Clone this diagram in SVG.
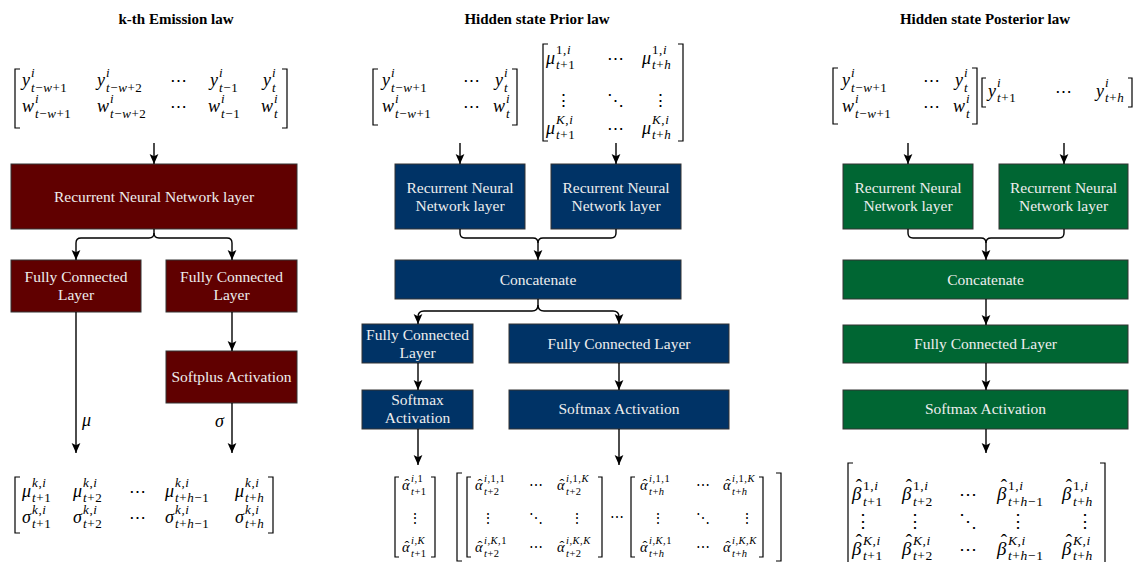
<svg xmlns="http://www.w3.org/2000/svg" width="1137" height="562" viewBox="0 0 1137 562">
<defs>
<marker id="ah" viewBox="0 0 10 10" refX="10" refY="5" markerWidth="10" markerHeight="10" markerUnits="userSpaceOnUse" orient="auto">
<path d="M0,0.6 L10,5 L0,9.4 L2.2,5 Z" fill="#000"/>
</marker>
<style>
.ti{font-family:"Liberation Serif",serif;font-weight:bold;font-size:15px;text-anchor:middle;fill:#000}
.bx{stroke:#333;stroke-width:1}
.red{fill:#600000}.blu{fill:#003366}.grn{fill:#006633}
.lb{font-family:"Liberation Serif",serif;font-size:15.5px;text-anchor:middle;fill:#eeeeee}
.cn{fill:none;stroke:#000;stroke-width:1.4}
.ar{marker-end:url(#ah)}
.mi{font-family:"Liberation Serif",serif;font-style:italic;font-size:18px;fill:#000}
.sc{font-size:13px;letter-spacing:0.6px}
.mi2{font-family:"Liberation Serif",serif;font-style:italic;font-size:14.5px;fill:#000}
.sc2{font-size:10.5px;letter-spacing:0.5px}
.mi3{font-family:"Liberation Serif",serif;font-style:italic;font-size:19px;fill:#000}
.sc3{font-size:13.5px;letter-spacing:0.6px}
.u{font-style:normal}
.h{font-style:normal;letter-spacing:0}
.d{font-family:"DejaVu Serif",serif;font-size:17px;text-anchor:middle;fill:#000}
.d2{font-family:"DejaVu Serif",serif;font-size:14px;text-anchor:middle;fill:#000}
.d3{font-family:"DejaVu Serif",serif;font-size:18px;text-anchor:middle;fill:#000}
.br{fill:none;stroke:#000;stroke-width:1.2}
</style>
</defs>

<g id="titles">
<text class="ti" x="176" y="24">k-th Emission law</text>
<text class="ti" x="537" y="24">Hidden state Prior law</text>
<text class="ti" x="985" y="24">Hidden state Posterior law</text>
</g>

<!-- Emission nodes -->
<g id="em-rnn"><rect class="bx red" x="11" y="164" width="286" height="65"/><text class="lb" x="154" y="202">Recurrent Neural Network layer</text></g>
<g id="em-fc1"><rect class="bx red" x="11" y="260" width="130" height="52"/><text class="lb" x="76" y="282">Fully Connected</text><text class="lb" x="76" y="300">Layer</text></g>
<g id="em-fc2"><rect class="bx red" x="166" y="260" width="131" height="52"/><text class="lb" x="231.5" y="282">Fully Connected</text><text class="lb" x="231.5" y="300">Layer</text></g>
<g id="em-softplus"><rect class="bx red" x="166" y="351" width="131" height="52"/><text class="lb" x="231.5" y="382">Softplus Activation</text></g>

<!-- Prior nodes -->
<g id="pr-rnn1"><rect class="bx blu" x="395" y="164" width="130" height="65"/><text class="lb" x="460" y="193">Recurrent Neural</text><text class="lb" x="460" y="211">Network layer</text></g>
<g id="pr-rnn2"><rect class="bx blu" x="551" y="164" width="130" height="65"/><text class="lb" x="616" y="193">Recurrent Neural</text><text class="lb" x="616" y="211">Network layer</text></g>
<g id="pr-concat"><rect class="bx blu" x="395" y="260" width="286" height="39"/><text class="lb" x="538" y="285">Concatenate</text></g>
<g id="pr-fc1"><rect class="bx blu" x="362" y="324" width="111" height="39"/><text class="lb" x="417.5" y="340">Fully Connected</text><text class="lb" x="417.5" y="358">Layer</text></g>
<g id="pr-fc2"><rect class="bx blu" x="509" y="324" width="220" height="39"/><text class="lb" x="619" y="349">Fully Connected Layer</text></g>
<g id="pr-sm1"><rect class="bx blu" x="362" y="390" width="111" height="39"/><text class="lb" x="417.5" y="405">Softmax</text><text class="lb" x="417.5" y="423">Activation</text></g>
<g id="pr-sm2"><rect class="bx blu" x="509" y="390" width="220" height="39"/><text class="lb" x="619" y="414">Softmax Activation</text></g>

<!-- Posterior nodes -->
<g id="po-rnn1"><rect class="bx grn" x="843" y="164" width="130" height="65"/><text class="lb" x="908" y="193">Recurrent Neural</text><text class="lb" x="908" y="211">Network layer</text></g>
<g id="po-rnn2"><rect class="bx grn" x="999" y="164" width="129" height="65"/><text class="lb" x="1063.5" y="193">Recurrent Neural</text><text class="lb" x="1063.5" y="211">Network layer</text></g>
<g id="po-concat"><rect class="bx grn" x="843" y="260" width="285" height="39"/><text class="lb" x="985.5" y="285">Concatenate</text></g>
<g id="po-fc"><rect class="bx grn" x="843" y="325" width="285" height="38"/><text class="lb" x="985.5" y="349">Fully Connected Layer</text></g>
<g id="po-sm"><rect class="bx grn" x="843" y="390" width="285" height="39"/><text class="lb" x="985.5" y="414">Softmax Activation</text></g>

<!-- Connectors -->
<g id="connectors">
<path class="cn ar" d="M154,143 V164"/>
<path class="cn ar" d="M154,229 V233 Q154,238 149,238 H81 Q76,238 76,243 V260"/>
<path class="cn ar" d="M154,233 Q154,238 159,238 H227 Q232,238 232,243 V260"/>
<path class="cn ar" d="M76,312 V453"/>
<path class="cn ar" d="M232,312 V351"/>
<path class="cn ar" d="M232,403 V453"/>

<path class="cn ar" d="M460,143 V164"/>
<path class="cn ar" d="M616,143 V164"/>
<path class="cn ar" d="M460,229 V233 Q460,238 465,238 H533 Q538,238 538,243 V260"/>
<path class="cn" d="M616,229 V233 Q616,238 611,238 H543 Q538,238 538,243"/>
<path class="cn ar" d="M538,299 V305 Q538,311 532,311 H424 Q418,311 418,317 V324"/>
<path class="cn ar" d="M538,305 Q538,311 544,311 H613 Q619,311 619,317 V324"/>
<path class="cn ar" d="M418,363 V390"/>
<path class="cn ar" d="M619,363 V390"/>
<path class="cn ar" d="M418,429 V465"/>
<path class="cn ar" d="M619,429 V465"/>

<path class="cn ar" d="M908,143 V164"/>
<path class="cn ar" d="M1064,143 V164"/>
<path class="cn ar" d="M908,229 V233 Q908,238 913,238 H981 Q986,238 986,243 V260"/>
<path class="cn" d="M1064,229 V233 Q1064,238 1059,238 H991 Q986,238 986,243"/>
<path class="cn ar" d="M986,299 V325"/>
<path class="cn ar" d="M986,363 V390"/>
<path class="cn ar" d="M986,429 V453"/>

<text class="mi" x="82" y="426">μ</text>
<text class="mi" x="215" y="427">σ</text>
</g>

<!-- Emission input matrix -->
<g id="em-in">
<path class="br" d="M20,69 H15 V128 H20"/><path class="br" d="M282,69 H287 V128 H282"/>
<text class="mi" x="22" y="86">y<tspan class="sc" x="31" y="77">i</tspan><tspan class="sc" x="31" y="92">t<tspan class="u">−</tspan>w<tspan class="u">+1</tspan></tspan></text>
<text class="mi" x="97" y="86">y<tspan class="sc" x="106" y="77">i</tspan><tspan class="sc" x="106" y="92">t<tspan class="u">−</tspan>w<tspan class="u">+2</tspan></tspan></text>
<text class="d" x="178" y="86">⋯</text>
<text class="mi" x="210" y="86">y<tspan class="sc" x="219" y="77">i</tspan><tspan class="sc" x="219" y="92">t<tspan class="u">−1</tspan></tspan></text>
<text class="mi" x="263" y="86">y<tspan class="sc" x="272" y="77">i</tspan><tspan class="sc" x="272" y="92">t</tspan></text>
<text class="mi" x="22" y="112">w<tspan class="sc" x="35" y="103">i</tspan><tspan class="sc" x="35" y="118">t<tspan class="u">−</tspan>w<tspan class="u">+1</tspan></tspan></text>
<text class="mi" x="97" y="112">w<tspan class="sc" x="110" y="103">i</tspan><tspan class="sc" x="110" y="118">t<tspan class="u">−</tspan>w<tspan class="u">+2</tspan></tspan></text>
<text class="d" x="178" y="112">⋯</text>
<text class="mi" x="208" y="112">w<tspan class="sc" x="221" y="103">i</tspan><tspan class="sc" x="221" y="118">t<tspan class="u">−1</tspan></tspan></text>
<text class="mi" x="261" y="112">w<tspan class="sc" x="274" y="103">i</tspan><tspan class="sc" x="274" y="118">t</tspan></text>
</g>

<!-- Emission output matrix -->
<g id="em-out">
<path class="br" d="M20,477 H15 V533 H20"/><path class="br" d="M268,477 H273 V533 H268"/>
<text class="mi" x="22" y="497">μ<tspan class="sc" x="32" y="487">k<tspan class="u">,</tspan>i</tspan><tspan class="sc" x="32" y="502">t<tspan class="u">+1</tspan></tspan></text>
<text class="mi" x="73" y="497">μ<tspan class="sc" x="83" y="487">k<tspan class="u">,</tspan>i</tspan><tspan class="sc" x="83" y="502">t<tspan class="u">+2</tspan></tspan></text>
<text class="d" x="137" y="497">⋯</text>
<text class="mi" x="165" y="497">μ<tspan class="sc" x="175" y="487">k<tspan class="u">,</tspan>i</tspan><tspan class="sc" x="175" y="502">t<tspan class="u">+</tspan>h<tspan class="u">−1</tspan></tspan></text>
<text class="mi" x="235" y="497">μ<tspan class="sc" x="245" y="487">k<tspan class="u">,</tspan>i</tspan><tspan class="sc" x="245" y="502">t<tspan class="u">+</tspan>h</tspan></text>
<text class="mi" x="22" y="523">σ<tspan class="sc" x="32" y="514">k<tspan class="u">,</tspan>i</tspan><tspan class="sc" x="32" y="528">t<tspan class="u">+1</tspan></tspan></text>
<text class="mi" x="73" y="523">σ<tspan class="sc" x="83" y="514">k<tspan class="u">,</tspan>i</tspan><tspan class="sc" x="83" y="528">t<tspan class="u">+2</tspan></tspan></text>
<text class="d" x="137" y="523">⋯</text>
<text class="mi" x="165" y="523">σ<tspan class="sc" x="175" y="514">k<tspan class="u">,</tspan>i</tspan><tspan class="sc" x="175" y="528">t<tspan class="u">+</tspan>h<tspan class="u">−1</tspan></tspan></text>
<text class="mi" x="235" y="523">σ<tspan class="sc" x="245" y="514">k<tspan class="u">,</tspan>i</tspan><tspan class="sc" x="245" y="528">t<tspan class="u">+</tspan>h</tspan></text>
</g>

<!-- Prior input matrices -->
<g id="pr-in1">
<path class="br" d="M378,69 H373 V125 H378"/><path class="br" d="M512,69 H517 V125 H512"/>
<text class="mi" x="382" y="86">y<tspan class="sc" x="391" y="77">i</tspan><tspan class="sc" x="391" y="92">t<tspan class="u">−</tspan>w<tspan class="u">+1</tspan></tspan></text>
<text class="d" x="471" y="86">⋯</text>
<text class="mi" x="495" y="86">y<tspan class="sc" x="504" y="77">i</tspan><tspan class="sc" x="504" y="92">t</tspan></text>
<text class="mi" x="382" y="112">w<tspan class="sc" x="395" y="103">i</tspan><tspan class="sc" x="395" y="118">t<tspan class="u">−</tspan>w<tspan class="u">+1</tspan></tspan></text>
<text class="d" x="471" y="112">⋯</text>
<text class="mi" x="493" y="112">w<tspan class="sc" x="506" y="103">i</tspan><tspan class="sc" x="506" y="118">t</tspan></text>
</g>
<g id="pr-in2">
<path class="br" d="M548,44 H543 V141 H548"/><path class="br" d="M678,44 H683 V141 H678"/>
<text class="mi" x="546" y="64">μ<tspan class="sc" x="556" y="54"><tspan class="u">1,</tspan>i</tspan><tspan class="sc" x="556" y="69">t<tspan class="u">+1</tspan></tspan></text>
<text class="d" x="615" y="64">⋯</text>
<text class="mi" x="642" y="64">μ<tspan class="sc" x="652" y="54"><tspan class="u">1,</tspan>i</tspan><tspan class="sc" x="652" y="69">t<tspan class="u">+</tspan>h</tspan></text>
<text class="d" x="563" y="106">⋮</text>
<text class="d" x="615" y="106">⋱</text>
<text class="d" x="660" y="106">⋮</text>
<text class="mi" x="546" y="134">μ<tspan class="sc" x="556" y="124">K<tspan class="u">,</tspan>i</tspan><tspan class="sc" x="556" y="139">t<tspan class="u">+1</tspan></tspan></text>
<text class="d" x="615" y="134">⋯</text>
<text class="mi" x="642" y="134">μ<tspan class="sc" x="652" y="124">K<tspan class="u">,</tspan>i</tspan><tspan class="sc" x="652" y="139">t<tspan class="u">+</tspan>h</tspan></text>
</g>

<!-- Prior output -->
<g id="pr-out1">
<path class="br" d="M399,477 H395 V557 H399"/><path class="br" d="M431,477 H435 V557 H431"/>
<text class="mi2" x="402" y="490">α<tspan class="h" x="404.6" y="489">ˆ</tspan><tspan class="sc2" x="411" y="482">i<tspan class="u">,1</tspan></tspan><tspan class="sc2" x="411" y="495">t<tspan class="u">+1</tspan></tspan></text>
<text class="d2" x="415" y="523">⋮</text>
<text class="mi2" x="402" y="552">α<tspan class="h" x="404.6" y="551">ˆ</tspan><tspan class="sc2" x="411" y="544">i<tspan class="u">,</tspan>K</tspan><tspan class="sc2" x="411" y="557">t<tspan class="u">+1</tspan></tspan></text>
</g>
<g id="pr-out2">
<path class="br" d="M462,473 H457 V561 H462"/><path class="br" d="M776,473 H781 V561 H776"/>
<path class="br" d="M471,477 H467 V557 H471"/><path class="br" d="M598,477 H602 V557 H598"/>
<text class="mi2" x="475" y="490">α<tspan class="h" x="477.6" y="489">ˆ</tspan><tspan class="sc2" x="484" y="482">i<tspan class="u">,1,1</tspan></tspan><tspan class="sc2" x="484" y="495">t<tspan class="u">+2</tspan></tspan></text>
<text class="d2" x="536" y="490">⋯</text>
<text class="mi2" x="557" y="490">α<tspan class="h" x="559.6" y="489">ˆ</tspan><tspan class="sc2" x="566" y="482">i<tspan class="u">,1,</tspan>K</tspan><tspan class="sc2" x="566" y="495">t<tspan class="u">+2</tspan></tspan></text>
<text class="d2" x="488" y="523">⋮</text><text class="d2" x="536" y="523">⋱</text><text class="d2" x="577" y="523">⋮</text>
<text class="mi2" x="475" y="552">α<tspan class="h" x="477.6" y="551">ˆ</tspan><tspan class="sc2" x="484" y="544">i<tspan class="u">,</tspan>K<tspan class="u">,1</tspan></tspan><tspan class="sc2" x="484" y="557">t<tspan class="u">+2</tspan></tspan></text>
<text class="d2" x="536" y="552">⋯</text>
<text class="mi2" x="557" y="552">α<tspan class="h" x="559.6" y="551">ˆ</tspan><tspan class="sc2" x="566" y="544">i<tspan class="u">,</tspan>K<tspan class="u">,</tspan>K</tspan><tspan class="sc2" x="566" y="557">t<tspan class="u">+2</tspan></tspan></text>
<text class="d2" x="617" y="522">⋯</text>
<path class="br" d="M635,477 H631 V557 H635"/><path class="br" d="M759,477 H763 V557 H759"/>
<text class="mi2" x="640" y="490">α<tspan class="h" x="642.6" y="489">ˆ</tspan><tspan class="sc2" x="649" y="482">i<tspan class="u">,1,1</tspan></tspan><tspan class="sc2" x="649" y="495">t<tspan class="u">+</tspan>h</tspan></text>
<text class="d2" x="703" y="490">⋯</text>
<text class="mi2" x="723" y="490">α<tspan class="h" x="725.6" y="489">ˆ</tspan><tspan class="sc2" x="732" y="482">i<tspan class="u">,1,</tspan>K</tspan><tspan class="sc2" x="732" y="495">t<tspan class="u">+</tspan>h</tspan></text>
<text class="d2" x="658" y="523">⋮</text><text class="d2" x="703" y="523">⋱</text><text class="d2" x="747" y="523">⋮</text>
<text class="mi2" x="640" y="552">α<tspan class="h" x="642.6" y="551">ˆ</tspan><tspan class="sc2" x="649" y="544">i<tspan class="u">,</tspan>K<tspan class="u">,1</tspan></tspan><tspan class="sc2" x="649" y="557">t<tspan class="u">+</tspan>h</tspan></text>
<text class="d2" x="703" y="552">⋯</text>
<text class="mi2" x="723" y="552">α<tspan class="h" x="725.6" y="551">ˆ</tspan><tspan class="sc2" x="732" y="544">i<tspan class="u">,</tspan>K<tspan class="u">,</tspan>K</tspan><tspan class="sc2" x="732" y="557">t<tspan class="u">+</tspan>h</tspan></text>
</g>

<!-- Posterior input -->
<g id="po-in1">
<path class="br" d="M838,68 H833 V124 H838"/><path class="br" d="M972,68 H977 V124 H972"/>
<text class="mi" x="842" y="86">y<tspan class="sc" x="851" y="77">i</tspan><tspan class="sc" x="851" y="92">t<tspan class="u">−</tspan>w<tspan class="u">+1</tspan></tspan></text>
<text class="d" x="931" y="86">⋯</text>
<text class="mi" x="955" y="86">y<tspan class="sc" x="964" y="77">i</tspan><tspan class="sc" x="964" y="92">t</tspan></text>
<text class="mi" x="842" y="112">w<tspan class="sc" x="855" y="103">i</tspan><tspan class="sc" x="855" y="118">t<tspan class="u">−</tspan>w<tspan class="u">+1</tspan></tspan></text>
<text class="d" x="931" y="112">⋯</text>
<text class="mi" x="953" y="112">w<tspan class="sc" x="966" y="103">i</tspan><tspan class="sc" x="966" y="118">t</tspan></text>
</g>
<g id="po-in2">
<path class="br" d="M986,78 H982 V107 H986"/><path class="br" d="M1128,78 H1132 V107 H1128"/>
<text class="mi" x="988" y="97">y<tspan class="sc" x="997" y="87">i</tspan><tspan class="sc" x="997" y="102">t<tspan class="u">+1</tspan></tspan></text>
<text class="d" x="1063" y="97">⋯</text>
<text class="mi" x="1096" y="97">y<tspan class="sc" x="1105" y="87">i</tspan><tspan class="sc" x="1105" y="102">t<tspan class="u">+</tspan>h</tspan></text>
</g>

<!-- Posterior output -->
<g id="po-out">
<path class="br" d="M853,463 H848 V572 H853"/><path class="br" d="M1100,463 H1105 V572 H1100"/>
<text class="mi3" x="852" y="500">β<tspan class="h" x="855.8" y="492">ˆ</tspan><tspan class="sc3" x="863" y="490"><tspan class="u">1,</tspan>i</tspan><tspan class="sc3" x="863" y="506">t<tspan class="u">+1</tspan></tspan></text>
<text class="mi3" x="902" y="500">β<tspan class="h" x="905.8" y="492">ˆ</tspan><tspan class="sc3" x="913" y="490"><tspan class="u">1,</tspan>i</tspan><tspan class="sc3" x="913" y="506">t<tspan class="u">+2</tspan></tspan></text>
<text class="d3" x="968" y="500">⋯</text>
<text class="mi3" x="997" y="500">β<tspan class="h" x="1000.8" y="492">ˆ</tspan><tspan class="sc3" x="1008" y="490"><tspan class="u">1,</tspan>i</tspan><tspan class="sc3" x="1008" y="506">t<tspan class="u">+</tspan>h<tspan class="u">−1</tspan></tspan></text>
<text class="mi3" x="1062" y="500">β<tspan class="h" x="1065.8" y="492">ˆ</tspan><tspan class="sc3" x="1073" y="490"><tspan class="u">1,</tspan>i</tspan><tspan class="sc3" x="1073" y="506">t<tspan class="u">+</tspan>h</tspan></text>
<text class="d3" x="863" y="527">⋮</text><text class="d3" x="915" y="527">⋮</text><text class="d3" x="968" y="527">⋱</text><text class="d3" x="1018" y="527">⋮</text><text class="d3" x="1085" y="527">⋮</text>
<text class="mi3" x="852" y="555">β<tspan class="h" x="855.8" y="547">ˆ</tspan><tspan class="sc3" x="863" y="545">K<tspan class="u">,</tspan>i</tspan><tspan class="sc3" x="863" y="560">t<tspan class="u">+1</tspan></tspan></text>
<text class="mi3" x="902" y="555">β<tspan class="h" x="905.8" y="547">ˆ</tspan><tspan class="sc3" x="913" y="545">K<tspan class="u">,</tspan>i</tspan><tspan class="sc3" x="913" y="560">t<tspan class="u">+2</tspan></tspan></text>
<text class="d3" x="968" y="555">⋯</text>
<text class="mi3" x="997" y="555">β<tspan class="h" x="1000.8" y="547">ˆ</tspan><tspan class="sc3" x="1008" y="545">K<tspan class="u">,</tspan>i</tspan><tspan class="sc3" x="1008" y="560">t<tspan class="u">+</tspan>h<tspan class="u">−1</tspan></tspan></text>
<text class="mi3" x="1062" y="555">β<tspan class="h" x="1065.8" y="547">ˆ</tspan><tspan class="sc3" x="1073" y="545">K<tspan class="u">,</tspan>i</tspan><tspan class="sc3" x="1073" y="560">t<tspan class="u">+</tspan>h</tspan></text>
</g>
</svg>
